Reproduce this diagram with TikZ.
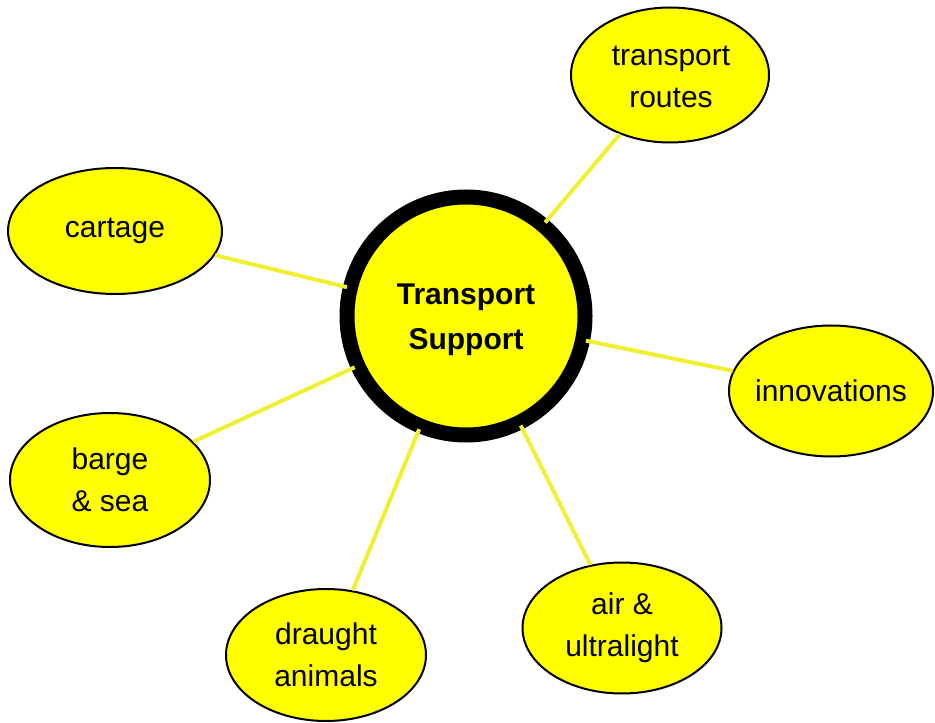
\documentclass[tikz,border=0pt]{standalone}
\usepackage{fontspec}
\setmainfont{Liberation Sans}
\usetikzlibrary{shapes.geometric}
\definecolor{nodeyellow}{RGB}{255,255,0}
\definecolor{lineyellow}{RGB}{240,240,50}
\tikzset{
  leaf/.style={ellipse, draw=black, line width=1.5pt, fill=nodeyellow, inner sep=0pt},
  leaftext/.style={inner sep=0pt, align=center, font=\fontsize{22.5}{31.5}\selectfont},
  hub/.style={circle, draw=black, line width=11.25pt, fill=nodeyellow, inner sep=0pt,
    minimum size=178.5pt},
  hubtext/.style={inner sep=0pt, align=center, font=\fontsize{22.5}{33.75}\selectfont\bfseries},
  conn/.style={draw=lineyellow, line width=3pt, shorten <=-3pt}
}
\begin{document}
\begin{tikzpicture}[x=0.75pt, y=-0.75pt]
\useasboundingbox (0,0) rectangle (935,723);
\node[hub] (hub) at (466,316) {};
\node[hubtext] (hubt) at (466,320) {Transport\\Support};
\node[leaf, minimum width=198*0.75pt, minimum height=135*0.75pt] (routes) at (670,75) {};
\node[leaftext] (routest) at (671,77) {transport\\routes};
\node[leaf, minimum width=214*0.75pt, minimum height=126*0.75pt] (cartage) at (115,231) {};
\node[leaftext] (cartaget) at (cartage) {cartage};
\node[leaf, minimum width=204*0.75pt, minimum height=131*0.75pt] (innov) at (831,391) {};
\node[leaftext] (innovt) at (innov) {innovations};
\node[leaf, minimum width=200*0.75pt, minimum height=134*0.75pt] (barge) at (110,480) {};
\node[leaftext] (barget) at (barge) {barge\\\& sea};
\node[leaf, minimum width=200*0.75pt, minimum height=132*0.75pt] (draught) at (326,655) {};
\node[leaftext] (draughtt) at (draught) {draught\\animals};
\node[leaf, minimum width=199*0.75pt, minimum height=131*0.75pt] (air) at (622,628) {};
\node[leaftext] (airt) at (air) {air \&\\ultralight};
\draw[conn] (hub) -- (routes);
\draw[conn] (hub) -- (cartage);
\draw[conn] (hub) -- (innov);
\draw[conn] (hub) -- (barge);
\draw[conn] (hub) -- (draught);
\draw[conn] (hub) -- (air);
\end{tikzpicture}
\end{document}
